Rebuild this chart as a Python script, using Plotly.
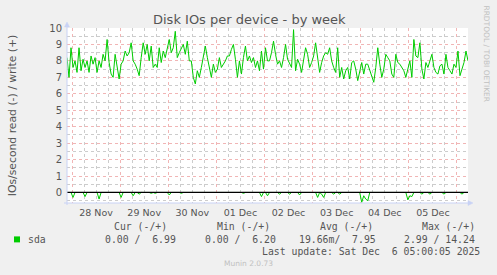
import plotly.graph_objects as go
import pandas as pd

# ---------------- data ----------------
start_time = "2025-11-27 21:30"
x_range = ["2025-11-27 21:30", "2025-12-06 05:30"]

write_ios = [
    8.2, 7.0, 8.8, 7.6, 8.0, 7.3, 8.8, 7.4, 8.1, 7.6,
    8.0, 7.3, 8.3, 7.8, 8.2, 7.3, 8.0, 7.6, 8.4, 8.0,
    9.3, 7.9, 7.2, 7.0, 8.4, 7.6, 6.9, 7.8, 8.0, 8.6,
    8.3, 8.5, 9.1, 8.0, 7.8, 7.5, 7.1, 8.2, 9.1, 8.4,
    9.0, 8.0, 8.9, 7.6, 7.8, 7.6, 8.8, 7.9, 8.6, 8.2,
    8.8, 9.3, 8.5, 8.8, 9.8, 8.2, 8.5, 8.8, 9.0, 8.4,
    9.2, 8.0, 8.0, 7.0, 6.6, 7.4, 7.0, 7.6, 8.2, 8.9,
    8.2, 7.6, 7.0, 7.8, 7.3, 7.5, 8.2, 7.6, 7.8, 8.0,
    8.3, 8.3, 8.7, 9.0, 8.1, 7.0, 8.0, 7.2, 8.2, 8.9,
    8.0, 8.3, 7.9, 8.2, 7.6, 8.0, 7.4, 8.6, 7.5, 8.8,
    8.0, 8.0, 8.5, 9.2, 8.4, 7.8, 8.0, 7.6, 8.2, 9.0,
    8.1, 7.8, 7.6, 9.9, 7.4, 8.1, 7.8, 7.3, 8.2, 8.8,
    8.4, 7.6, 7.9, 8.3, 9.1, 8.3, 7.3, 7.9, 8.3, 8.5,
    8.4, 8.8, 8.0, 7.6, 7.3, 8.8, 7.0, 7.6, 6.9, 7.4,
    7.6, 6.9, 7.9, 8.0, 7.5, 6.8, 7.4, 7.9, 7.2, 7.8,
    7.8, 7.4, 7.0, 6.7, 7.6, 8.8, 7.8, 7.0, 7.5, 8.4,
    8.2, 8.0, 7.2, 7.0, 8.4, 7.9, 7.8, 7.6, 7.4, 7.0,
    7.5, 8.0, 7.0, 9.3, 8.3, 8.2, 9.1, 7.5, 6.9, 7.9,
    7.6, 8.0, 8.4, 7.6, 7.3, 7.2, 7.7, 7.8, 7.2, 8.4,
    7.6, 7.4, 7.2, 7.8, 7.6, 8.6, 7.1, 7.5, 7.9, 8.6,
    8.0,
]

read_ios = [
    0, 0, 0, -0.3, 0, 0, 0, 0, 0, -0.25,
    0, 0, 0, 0, 0, 0, -0.4, 0, 0, 0,
    0, 0, 0, 0, 0, 0, 0, -0.3, 0, 0,
    0, 0, 0, -0.2, 0, 0, -0.1, 0, 0, 0,
    0, 0, -0.05, 0, -0.05, 0, 0, 0, 0, 0,
    0, -0.15, 0, 0, 0, 0, 0, -0.05, 0, 0,
    0, 0, 0, 0, 0, 0, 0, 0, 0, 0,
    0, 0, 0, 0, 0, 0, 0, 0, 0, 0,
    0, 0, 0, 0, 0, 0, 0, 0, -0.05, 0,
    0, 0, 0, 0, 0, 0, 0, -0.25, 0, 0,
    -0.2, 0, 0, 0, 0, 0, -0.1, 0, 0, 0,
    0, -0.1, 0, 0, 0, 0, -0.15, 0, 0, 0,
    0, 0, 0, 0, 0, -0.3, 0, -0.1, -0.3, 0,
    0, 0, 0, -0.1, 0, 0, -0.1, 0, 0, 0,
    0, 0, 0, 0, 0, 0, 0, -0.6, -0.2, -0.4,
    -0.5, 0, 0, 0, 0, 0, 0, 0, 0, 0,
    0, 0, 0, 0, 0, 0, 0, 0, 0, 0,
    -0.45, -0.2, -0.25, 0, 0, 0, 0, -0.1, 0, 0,
    0, -0.1, 0, 0, 0, 0, 0, 0, -0.1, 0,
    0, 0, 0, 0, 0, 0, 0, -0.1, 0, 0,
    0,
]

y_range = [-0.64, 10.0]
series_name = "sda"
legend_headers = ["Cur (-/+)", "Min (-/+)", "Avg (-/+)", "Max (-/+)"]
legend_values = ["0.00 /  6.99", "0.00 /  6.20", "19.66m/  7.95", "2.99 / 14.24"]
last_update = "Last update: Sat Dec  6 05:00:05 2025"
title = "Disk IOs per device - by week"
y_title = "IOs/second read (-) / write (+)"
watermark = "RRDTOOL / TOBI OETIKER"
footer = "Munin 2.0.73"

# ---------------- layout helpers ----------------
W, H = 497, 275
L, R, T, B = 67, 468, 27.5, 203
PW, PH = R - L, B - T


def px(x):
    return (x - L) / PW


def py(y):
    return (B - y) / PH


times = pd.date_range(start_time, periods=len(write_ios), freq="h")
GREEN = "#00cc00"
TXT = "#555555"
AXC = "#c8d2f5"

fig = go.Figure()
fig.add_trace(go.Scatter(x=times, y=read_ios, mode="lines",
                         line=dict(color=GREEN, width=1), showlegend=False,
                         hoverinfo="skip"))
fig.add_trace(go.Scatter(x=times, y=write_ios, mode="lines",
                         line=dict(color=GREEN, width=1), showlegend=False,
                         hoverinfo="skip"))

major_grid = "rgba(230,120,120,0.55)"
minor_grid = "rgba(170,170,170,0.6)"

fig.update_xaxes(
    type="date", range=x_range,
    dtick=86400000, tick0="2025-11-28 00:00", tickformat="%d %b",
    ticklabelmode="period",
    showgrid=True, gridcolor=major_grid, griddash="dot", gridwidth=1,
    minor=dict(dtick=6 * 3600 * 1000, showgrid=True, gridcolor=minor_grid,
               griddash="dot", gridwidth=1),
    ticks="", showline=False, zeroline=False,
    tickfont=dict(family="DejaVu Sans", size=9.5, color=TXT),
    ticklabelstandoff=2,
)
fig.update_yaxes(
    range=y_range, dtick=1, tick0=0,
    showgrid=True, gridcolor=major_grid, griddash="dot", gridwidth=1,
    minor=dict(dtick=0.5, showgrid=True, gridcolor=minor_grid,
               griddash="dot", gridwidth=1),
    ticks="", showline=False, zeroline=False,
    tickfont=dict(family="DejaVu Sans", size=10, color=TXT),
    ticklabelstandoff=4,
)

shapes = []
# zero line
shapes.append(dict(type="line", xref="paper", yref="y", x0=0, x1=1, y0=0, y1=0,
                   line=dict(color="#000000", width=1.3), layer="above"))
# axis lines with arrows
shapes.append(dict(type="line", xref="paper", yref="paper",
                   x0=0, x1=0, y0=py(205), y1=py(24),
                   line=dict(color=AXC, width=1), layer="above"))
shapes.append(dict(type="path", xref="paper", yref="paper",
                   path=f"M {px(64.5)} {py(26.5)} L {px(69.5)} {py(26.5)} L {px(67)} {py(21.5)} Z",
                   fillcolor=AXC, line=dict(color=AXC, width=0.5), layer="above"))
shapes.append(dict(type="line", xref="paper", yref="paper",
                   x0=px(64), x1=px(470), y0=0, y1=0,
                   line=dict(color=AXC, width=1), layer="above"))
shapes.append(dict(type="path", xref="paper", yref="paper",
                   path=f"M {px(468)} {py(200.5)} L {px(468)} {py(205.5)} L {px(473)} {py(203)} Z",
                   fillcolor=AXC, line=dict(color=AXC, width=0.5), layer="above"))
# legend swatch
shapes.append(dict(type="rect", xref="paper", yref="paper",
                   x0=px(14), x1=px(20), y0=py(242.5), y1=py(236.5),
                   fillcolor=GREEN, line=dict(width=0)))

mono = dict(family="DejaVu Sans Mono", size=9.8, color=TXT)
ann = []
ann.append(dict(text=title, xref="paper", yref="paper", x=px(249), y=py(19),
                xanchor="center", yanchor="middle", showarrow=False,
                font=dict(family="DejaVu Sans", size=13, color=TXT)))
ann.append(dict(text=y_title, xref="paper", yref="paper", x=px(12), y=py(115),
                xanchor="center", yanchor="middle", showarrow=False, textangle=-90,
                font=dict(family="DejaVu Sans", size=10.8, color=TXT)))
ann.append(dict(text=watermark, xref="paper", yref="paper", x=px(487), y=py(53),
                xanchor="center", yanchor="middle", showarrow=False, textangle=90,
                font=dict(family="DejaVu Sans", size=7.5, color="#c0c0c0")))
ann.append(dict(text=series_name, xref="paper", yref="paper", x=px(26), y=py(239.5),
                xanchor="left", yanchor="middle", showarrow=False, font=mono))
header_right = [169, 272, 375, 477]
value_right = [178, 278, 378, 477]
for h, v, hx, vx in zip(legend_headers, legend_values, header_right, value_right):
    ann.append(dict(text=h, xref="paper", yref="paper", x=px(hx), y=py(227),
                    xanchor="right", yanchor="middle", showarrow=False, font=mono))
    ann.append(dict(text=v.replace(" ", "&nbsp;"), xref="paper", yref="paper",
                    x=px(vx), y=py(239.5),
                    xanchor="right", yanchor="middle", showarrow=False, font=mono))
ann.append(dict(text=last_update.replace(" ", "&nbsp;"), xref="paper", yref="paper",
                x=px(482), y=py(252), xanchor="right", yanchor="middle",
                showarrow=False, font=mono))
ann.append(dict(text=footer, xref="paper", yref="paper", x=px(248), y=py(263.5),
                xanchor="center", yanchor="middle", showarrow=False,
                font=dict(family="DejaVu Sans", size=7.5, color="#c0c0c0")))

fig.update_layout(
    width=W, height=H,
    margin=dict(l=L, r=W - R, t=T, b=H - B, pad=0),
    paper_bgcolor="#f0f0f0", plot_bgcolor="#ffffff",
    shapes=shapes, annotations=ann, showlegend=False,
)

fig.write_html("out.html")
